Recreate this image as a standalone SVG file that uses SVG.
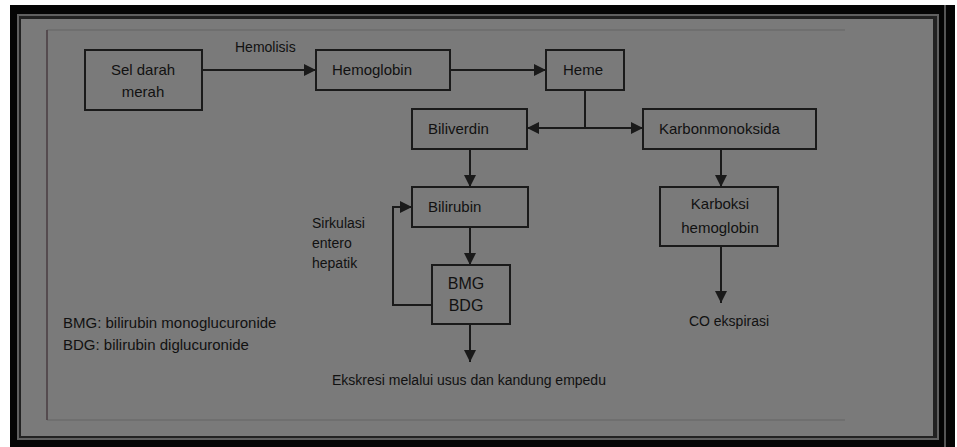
<svg xmlns="http://www.w3.org/2000/svg" width="957" height="447" viewBox="0 0 957 447">
<style>
text{font-family:"Liberation Sans",Arial,sans-serif;fill:#111;font-size:15px}
.c{text-anchor:middle}
.box{fill:none;stroke:#1a1a1a;stroke-width:2}
.ln{fill:none;stroke:#1a1a1a;stroke-width:2}
.sm{font-size:14px}
</style>
<defs>
<marker id="ah" markerUnits="userSpaceOnUse" markerWidth="12" markerHeight="12" refX="10" refY="5" orient="auto" viewBox="0 0 10 10">
<path d="M0,0 L10,5 L0,10 z" fill="#1a1a1a"/>
</marker>
</defs>
<rect width="957" height="447" fill="#ffffff"/>
<g id="frame">
<rect x="10" y="5" width="945" height="442" fill="#050505"/>
<line x1="945" y1="5" x2="945" y2="447" stroke="#555" stroke-width="2"/>
<rect x="17" y="14" width="922" height="426" fill="#606060"/>
<rect x="19" y="16" width="918" height="422" fill="#222"/>
<rect x="21" y="19" width="912" height="417" fill="#7a7a7a"/>
<line x1="47" y1="30" x2="845" y2="30" stroke="#6c6c6c" stroke-width="1.5"/>
<line x1="47" y1="420" x2="845" y2="420" stroke="#6c6c6c" stroke-width="1.5"/>
<line x1="47" y1="30" x2="47" y2="420" stroke="#4a3c42" stroke-width="1.5"/>
</g>
<g id="connectors">
<line class="ln" x1="202" y1="70" x2="316" y2="70" marker-end="url(#ah)"/>
<line class="ln" x1="450" y1="70" x2="546" y2="70" marker-end="url(#ah)"/>
<line class="ln" x1="585" y1="90" x2="585" y2="128"/>
<line class="ln" x1="585" y1="128" x2="527" y2="128" marker-end="url(#ah)"/>
<line class="ln" x1="585" y1="128" x2="643" y2="128" marker-end="url(#ah)"/>
<line class="ln" x1="470" y1="149" x2="470" y2="187" marker-end="url(#ah)"/>
<line class="ln" x1="470" y1="227" x2="470" y2="265" marker-end="url(#ah)"/>
<polyline class="ln" points="432,305 393,305 393,207 412,207" marker-end="url(#ah)"/>
<line class="ln" x1="470" y1="324" x2="470" y2="362" marker-end="url(#ah)"/>
<line class="ln" x1="721" y1="149" x2="721" y2="187" marker-end="url(#ah)"/>
<line class="ln" x1="721" y1="246" x2="721" y2="303" marker-end="url(#ah)"/>
<text x="235" y="52" class="sm">Hemolisis</text>
<text x="312" y="228" class="sm">Sirkulasi</text>
<text x="312" y="248" class="sm">entero</text>
<text x="312" y="268" class="sm">hepatik</text>
</g>
<g id="sel-darah-merah">
<rect class="box" x="85" y="50" width="117" height="60"/>
<text x="143" y="75" class="c">Sel darah</text>
<text x="143" y="97" class="c">merah</text>
</g>
<g id="hemoglobin">
<rect class="box" x="316" y="50" width="134" height="40"/>
<text x="332" y="75">Hemoglobin</text>
</g>
<g id="heme">
<rect class="box" x="546" y="50" width="78" height="40"/>
<text x="583" y="75" class="c">Heme</text>
</g>
<g id="biliverdin">
<rect class="box" x="412" y="109" width="115" height="40"/>
<text x="428" y="134">Biliverdin</text>
</g>
<g id="karbonmonoksida">
<rect class="box" x="643" y="109" width="173" height="40"/>
<text x="659" y="134">Karbonmonoksida</text>
</g>
<g id="bilirubin">
<rect class="box" x="412" y="187" width="116" height="40"/>
<text x="428" y="212">Bilirubin</text>
</g>
<g id="bmg-bdg">
<rect class="box" x="432" y="265" width="78" height="59"/>
<text x="466" y="289" class="c" style="font-size:16px">BMG</text>
<text x="466" y="311" class="c" style="font-size:16px">BDG</text>
</g>
<g id="karboksi-hemoglobin">
<rect class="box" x="660" y="187" width="118" height="59"/>
<text x="720" y="209" class="c">Karboksi</text>
<text x="720" y="233" class="c">hemoglobin</text>
</g>
<g id="co-ekspirasi">
<text x="729" y="326" class="c sm">CO ekspirasi</text>
</g>
<g id="ekskresi">
<text x="332" y="385" class="sm">Ekskresi melalui usus dan kandung empedu</text>
</g>
<g id="legend">
<text x="63" y="328">BMG: bilirubin monoglucuronide</text>
<text x="63" y="350">BDG: bilirubin diglucuronide</text>
</g>
</svg>
